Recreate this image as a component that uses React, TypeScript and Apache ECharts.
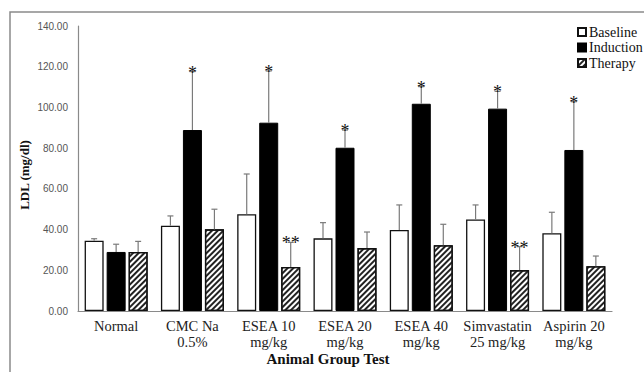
import React, { useEffect, useRef } from "react";
import * as echarts from "echarts";

const categories = [
  "Normal",
  "CMC Na\n0.5%",
  "ESEA 10\nmg/kg",
  "ESEA 20\nmg/kg",
  "ESEA 40\nmg/kg",
  "Simvastatin\n25 mg/kg",
  "Aspirin 20\nmg/kg",
];
const seriesNames = ["Baseline", "Induction", "Therapy"];
const baseline = [34.5, 41.9, 47.5, 35.7, 39.8, 45.0, 38.2];
const baselineErr = [1.0, 4.8, 19.8, 7.7, 12.3, 7.1, 10.3];
const induction = [29.0, 88.9, 92.5, 80.2, 101.8, 99.4, 79.1];
const inductionErr = [3.8, 28.7, 25.4, 8.7, 8.4, 8.5, 23.7];
const therapy = [29.0, 40.1, 21.6, 30.9, 32.3, 20.1, 22.0];
const therapyErr = [5.2, 9.9, 12.1, 7.9, 10.3, 11.5, 5.0];
const inductionMarks = ["", "*", "*", "*", "*", "*", "*"];
const therapyMarks = ["", "", "**", "", "", "**", ""];
const yTicks = [0, 20, 40, 60, 80, 100, 120, 140];

const BAR_W = 19;
const GAP = 3;
const SERIF = "Liberation Serif";

export default function App() {
  const ref = useRef<HTMLDivElement>(null);
  useEffect(() => {
    if (!ref.current) return;
    const chart = echarts.init(ref.current, null, { renderer: "svg" });

    const errSeries = (values: number[], errs: number[], marks: string[], pos: number) => ({
      type: "custom",
      silent: true,
      z: 5,
      data: values.map((v, i) => [i, v, errs[i]]),
      encode: { x: 0, y: 1 },
      renderItem: (params: any, api: any) => {
        const idx = api.value(0);
        const v = api.value(1);
        const e = api.value(2);
        const mark = marks[idx];
        const base = api.coord([idx, v]);
        const top = api.coord([idx, v + e]);
        const x = base[0] + (pos - 1) * (BAR_W + GAP);
        const children: any[] = [
          {
            type: "line",
            shape: { x1: x, y1: base[1], x2: x, y2: top[1] },
            style: { stroke: "#7a7a7a", lineWidth: 1.2 },
          },
          {
            type: "line",
            shape: { x1: x - 3, y1: top[1], x2: x + 3, y2: top[1] },
            style: { stroke: "#7a7a7a", lineWidth: 1.2 },
          },
        ];
        if (mark) {
          children.push({
            type: "text",
            x: x,
            y: top[1] + 1,
            style: {
              text: mark,
              font: "18px " + SERIF + ", serif",
              fill: "#111",
              align: "center",
              verticalAlign: "middle",
            },
          });
        }
        return { type: "group", children };
      },
    });

    const barGapPct = ((GAP / BAR_W) * 100).toFixed(1) + "%";
    const decal = {
      symbol: "rect",
      color: "#222",
      dashArrayX: [1, 0],
      dashArrayY: [1.3, 1.7],
      rotation: -Math.PI / 4,
      symbolSize: 1,
    };

    chart.setOption({
      animation: false,
      grid: { left: 78, right: 32, top: 26, bottom: 61, containLabel: false },
      legend: {
        orient: "vertical",
        left: 572,
        top: 20,
        itemWidth: 8,
        itemHeight: 8,
        itemGap: 1.5,
        icon: "rect",
        data: seriesNames,
        textStyle: { fontFamily: SERIF, fontSize: 14, color: "#111", padding: [0, 0, 0, -2] },
      },
      xAxis: {
        type: "category",
        data: categories,
        axisLine: { show: true, lineStyle: { color: "#8a8a8a", width: 1.2 } },
        axisTick: { show: false },
        axisLabel: {
          fontFamily: SERIF,
          fontSize: 14.5,
          color: "#222",
          lineHeight: 16,
          margin: 7,
          interval: 0,
        },
      },
      yAxis: {
        type: "value",
        min: 0,
        max: 140,
        interval: 20,
        axisLine: { show: true, lineStyle: { color: "#8a8a8a", width: 1.2 } },
        axisTick: { show: false },
        splitLine: { show: false },
        axisLabel: {
          fontFamily: "Liberation Sans",
          fontSize: 10,
          color: "#555",
          margin: 10,
          formatter: (v: number) => (yTicks.includes(v) ? v.toFixed(2) : ""),
        },
      },
      series: [
        {
          name: seriesNames[0],
          type: "bar",
          barWidth: BAR_W,
          barGap: barGapPct,
          data: baseline,
          itemStyle: { color: "#ffffff", borderColor: "#111", borderWidth: 1.3 },
        },
        {
          name: seriesNames[1],
          type: "bar",
          barWidth: BAR_W,
          barGap: barGapPct,
          data: induction,
          itemStyle: { color: "#000000", borderColor: "#000", borderWidth: 1 },
        },
        {
          name: seriesNames[2],
          type: "bar",
          barWidth: BAR_W,
          barGap: barGapPct,
          data: therapy,
          itemStyle: {
            color: "#ffffff",
            borderColor: "#111",
            borderWidth: 1.3,
            decal,
          },
        },
        errSeries(baseline, baselineErr, ["", "", "", "", "", "", ""], 0),
        errSeries(induction, inductionErr, inductionMarks, 1),
        errSeries(therapy, therapyErr, therapyMarks, 2),
      ],
      graphic: [
        {
          type: "rect",
          shape: { x: 10, y: 12, width: 700, height: 420 },
          style: { fill: "none", stroke: "#8a8a8a", lineWidth: 1.5 },
          silent: true,
        },
        {
          type: "text",
          x: 24,
          y: 175,
          rotation: Math.PI / 2,
          style: {
            text: "LDL (mg/dl)",
            font: "bold 13px " + SERIF + ", serif",
            fill: "#111",
            align: "center",
            verticalAlign: "middle",
          },
        },
        {
          type: "text",
          x: 328,
          y: 359,
          style: {
            text: "Animal Group Test",
            font: "bold 15px " + SERIF + ", serif",
            fill: "#111",
            align: "center",
            verticalAlign: "middle",
          },
        },
      ],
    });
    return () => chart.dispose();
  }, []);
  return (
    <div
      ref={ref}
      style={{ position: "fixed", left: 0, top: 0, width: 644, height: 372, background: "#fff" }}
    />
  );
}
